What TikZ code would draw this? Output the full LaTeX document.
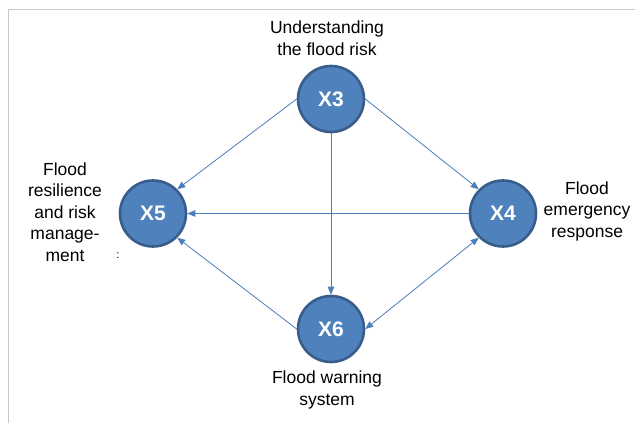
\documentclass[tikz,border=0pt]{standalone}
\usepackage{fontspec}
\setmainfont{Liberation Sans}
\usetikzlibrary{arrows.meta}
\definecolor{nodefill}{HTML}{4F81BD}
\definecolor{nodeline}{HTML}{385D8A}
\definecolor{arrowcol}{HTML}{4A7EBB}
\definecolor{framecol}{HTML}{C8C8C8}
\tikzset{
  xnode/.style={circle, fill=nodefill, draw=nodeline, line width=2.6pt,
    minimum size=66pt, inner sep=0pt, text=white,
    font=\fontsize{21}{24}\selectfont\bfseries},
  lbl/.style={align=center, inner sep=0pt, text=black,
    font=\fontsize{17.5}{21.5}\selectfont},
  conn/.style={draw=arrowcol, line width=0.8pt,
    -{Triangle[length=8pt,width=6.5pt]}},
  biconn/.style={draw=arrowcol, line width=0.8pt,
    {Triangle[length=8pt,width=6.5pt]}-{Triangle[length=8pt,width=6.5pt]}},
}
\begin{document}
\begin{tikzpicture}[x=1pt,y=-1pt]
\useasboundingbox (0,0) rectangle (635,423);
\fill[white] (0,0) rectangle (635,423);
\coordinate (fa) at (8.7,423);
\coordinate (fb) at (8.7,9.5);
\coordinate (fc) at (635,9.5);
\draw[framecol, line width=1.5pt] (fa) -- (fb) -- (fc);

\node[xnode] (x3) at (331,99) {X3};
\node[xnode] (x5) at (153,213.5) {X5};
\node[xnode] (x4) at (503,213.5) {X4};
\node[xnode] (x6) at (331,329) {X6};

\node[lbl] (l3) at (327,38) {Understanding\\the flood risk};
\node[lbl] (l5) at (65,212) {Flood\\resilience\\and risk\\manage-\\ment};
\node[lbl] (l4) at (587,211) {Flood\\emergency\\response};
\node[lbl] (l6) at (327,390) {Flood warning\\system};
\node[inner sep=0pt, font=\fontsize{11}{12}\selectfont] (colon) at (118,256) {:};

\draw[conn] (x3.west) -- (x5.north east);
\draw[conn] (x3.east) -- (x4.north west);
\draw[conn] (x3.south) -- (x6.north);
\draw[conn] (x4.west) -- (x5.east);
\draw[conn] (x6.west) -- (x5.south east);
\draw[biconn] (x4.south west) -- (x6.east);
\end{tikzpicture}
\end{document}
